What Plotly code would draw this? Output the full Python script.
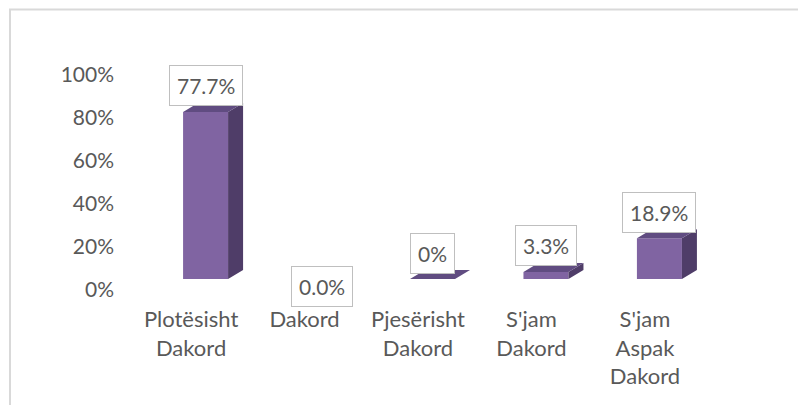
import plotly.graph_objects as go

# ---- data ----
categories = ["Plotësisht<br>Dakord", "Dakord", "Pjesërisht<br>Dakord", "S'jam<br>Dakord", "S'jam<br>Aspak<br>Dakord"]
values = [77.7, None, 0.0, 3.3, 18.9]
value_labels = ["77.7%", "0.0%", "0%", "3.3%", "18.9%"]
y_ticks = [0, 20, 40, 60, 80, 100]
y_tick_labels = ["0%", "20%", "40%", "60%", "80%", "100%"]

# ---- layout geometry ----
W, H = 798, 405
ML, MR, MT, MB = 123, 85, 64, 126
XR = (-0.6, 4.6)
YR = (0, 100)
plot_w = W - ML - MR
plot_h = H - MT - MB
ux = plot_w / (XR[1] - XR[0])      # px per category unit
uy = plot_h / (YR[1] - YR[0])      # px per percent

# 3D bar geometry (in px, converted to data units)
x0_off = -8 / ux
x1_off = 37 / ux
dx = 15 / ux
dy = 9 / uy

FRONT = "#8064A2"
TOP = "#604C81"
SIDE = "#4F3D68"
TEXT = "#595959"
FONT = "Lato"

fx, fy, sx, sy, tx, ty = [], [], [], [], [], []
for i, v in enumerate(values):
    if v is None:
        continue
    a, b = i + x0_off, i + x1_off
    fx += [a, b, b, a, a, None]
    fy += [0, 0, v, v, 0, None]
    sx += [b, b + dx, b + dx, b, b, None]
    sy += [0, dy, v + dy, v, 0, None]
    tx += [a, b, b + dx, a + dx, a, None]
    ty += [v, v, v + dy, v + dy, v, None]

fig = go.Figure()
for xs, ys, col in [(fx, fy, FRONT), (sx, sy, SIDE), (tx, ty, TOP)]:
    fig.add_trace(go.Scatter(x=xs, y=ys, mode="lines", fill="toself",
                             fillcolor=col, line=dict(width=0, color=col),
                             hoverinfo="skip", showlegend=False))

annotations = []
for i, (v, lab) in enumerate(zip(values, value_labels)):
    xc = i + (x0_off + x1_off) / 2
    if v is None:
        y, ys = 0, -7
        xc += 3 / ux
    else:
        y, ys = v, 26
    annotations.append(dict(x=xc, y=y, yshift=ys, text=lab, showarrow=False,
                            font=dict(family=FONT, size=21, color=TEXT),
                            bgcolor="white", bordercolor="#BFBFBF", borderwidth=1,
                            borderpad=7, xanchor="center", yanchor="middle"))

def px2paper_x(p):
    return (p - ML) / plot_w

def px2paper_y(p):
    return (H - MB - p) / plot_h

fig.update_layout(
    width=W, height=H, autosize=False,
    margin=dict(l=ML, r=MR, t=MT, b=MB, pad=0),
    paper_bgcolor="white", plot_bgcolor="white",
    font=dict(family=FONT, size=21, color=TEXT),
    xaxis=dict(range=list(XR), tickmode="array", tickvals=list(range(len(categories))),
               ticktext=categories, showgrid=False, zeroline=False, showline=False,
               ticks="", ticklabelstandoff=25,
               tickfont=dict(family=FONT, size=22, color=TEXT), fixedrange=True),
    yaxis=dict(range=list(YR), tickmode="array", tickvals=y_ticks, ticktext=y_tick_labels,
               showgrid=False, zeroline=False, showline=False, ticks="",
               ticklabelshift=11, ticklabelstandoff=8,
               tickfont=dict(family=FONT, size=21, color=TEXT), fixedrange=True),
    annotations=annotations,
    shapes=[dict(type="rect", xref="paper", yref="paper",
                 x0=px2paper_x(10), x1=px2paper_x(830),
                 y0=px2paper_y(430), y1=px2paper_y(9.5),
                 line=dict(color="#D9D9D9", width=2), fillcolor="rgba(0,0,0,0)",
                 layer="below")],
)

fig.write_html("out.html",
               config={"displayModeBar": False, "staticPlot": True},
               post_script="document.body.style.margin='0';document.body.style.overflow='hidden';")
